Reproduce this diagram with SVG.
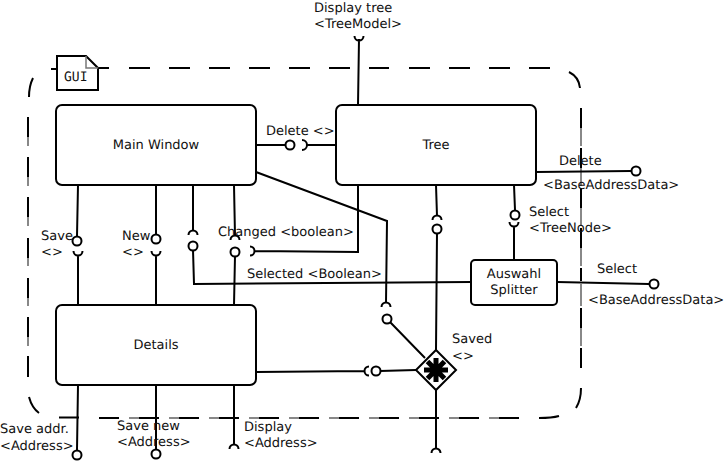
<svg xmlns="http://www.w3.org/2000/svg" width="724" height="462" viewBox="0 0 724 462">
<style>
text{font-family:"DejaVu Sans",sans-serif;font-size:13px;fill:#111;text-rendering:geometricPrecision}
.m{text-anchor:middle}
.b{fill:#fff;stroke:#000;stroke-width:2}
.c{fill:none;stroke:#000;stroke-width:2}
.g{fill:none;stroke:#888;stroke-width:2}
.o{fill:#fff;stroke:#000;stroke-width:2}
</style>
<rect width="724" height="462" fill="#fff"/>
<g id="boundary">
<path class="c" d="M51 69H56M99 68H109M129 68H150M169 68H190M209 68H230M249 68H270M289 68H310M329 68H350M369 68H389M409 68H430M449 68H470M489 68H510M529 68H550"/>
<path class="c" d="M569 72Q579 77 580 88M581 108V128M581 148V168M581 188V208M581 228V248M581 268V281M581 308V328M581 348V368M581 388Q581 400 576 408"/>
<path class="g" d="M581 128V146M581 168V186M581 208V226M581 248V266M581 284V306M581 328V346"/>
<path class="c" d="M33 78Q29 86 29 97M28 117V137M28 157V177M28 197V217M28 238V258M28 278V298M28 317V337M28 356V377M29 397Q32 408 39 413"/>
<path class="g" d="M28 137V146M28 177V186M28 217V226M28 258V266M28 298V306M28 337V346"/>
<path class="c" d="M59 417.500H79M99 418H119M139 418H159M179 418H199M219 418H239M259 418H279M299 418H319M339 418H359M379 418H399M419 418H439M459 418H479M499 418H519M539 418Q552 418 559 416"/>
<path class="g" d="M129 418H139M169 418H179M209 418H219M249 418H259M289 418H299M329 418H339M369 418H379M409 418H419M449 418H459M489 418H499"/>
</g>
<g id="connectors">
<path class="c" d="M358 105L359 39M354.500 36A4.500 4.500 0 0 0 363.500 36"/>
<path class="c" d="M256 145H285M302 140A5 5 0 0 1 302 150M306 145H336"/>
<path class="c" d="M256 172L387 221L386 303M381.500 307A4.500 4.500 0 0 1 390.500 307M390 322L425 358"/>
<path class="c" d="M436 185L437 216M432.500 220A4.500 4.500 0 0 1 441.500 220M437 233L436 350M436 390V449M431.500 453A4.500 4.500 0 0 1 440.500 453"/>
<path class="c" d="M256 372L365 371M369 366.500A4.500 4.500 0 0 0 369 375.500M380 371L416 370"/>
<path class="c" d="M514 185L515 210M509.500 222A4.500 4.500 0 0 0 518.500 222M514 226V260"/>
<path class="c" d="M471 282L194 284L193 250M193 185V231M188.500 235A4.500 4.500 0 0 1 197.500 235"/>
<path class="c" d="M234 185L235 236M230.500 240A4.500 4.500 0 0 1 239.500 240M235 256L234 305"/>
<path class="c" d="M250 246.500A4.500 4.500 0 0 1 250 255.500M254 251L358 252V185"/>
<path class="c" d="M78 185L77 236M73.500 251A4.500 4.500 0 0 0 82.500 251M78 255V305"/>
<path class="c" d="M156 185V234M151.500 251A4.500 4.500 0 0 0 160.500 251M156 255V305"/>
<path class="c" d="M78 385L77 450M156 385V449M234 385V445M229.500 449A4.500 4.500 0 0 1 238.500 449"/>
<path class="c" d="M536 172L631 171M557 282L649 284"/>
<g>
<circle class="o" cx="290" cy="145" r="4.500"/><circle class="o" cx="387" cy="319" r="4.500"/>
<circle class="o" cx="437" cy="229" r="4.500"/><circle class="o" cx="376" cy="371" r="4.500"/>
<circle class="o" cx="515" cy="215" r="4.500"/><circle class="o" cx="193" cy="246" r="4.500"/>
<circle class="o" cx="235" cy="252" r="4.500"/><circle class="o" cx="77" cy="241" r="4.500"/>
<circle class="o" cx="156" cy="239" r="4.500"/><circle class="o" cx="77" cy="455" r="4.500"/>
<circle class="o" cx="156" cy="454" r="4.500"/><circle class="o" cx="636" cy="171" r="4.500"/>
<circle class="o" cx="654" cy="284" r="4.500"/>
</g>
</g>
<g id="gui-note">
<path class="b" d="M57 56H86L98 68V90H57Z"/>
<path fill="none" stroke="#777" stroke-width="1.500" d="M86 56V68H98"/>
<text x="64" y="81" style="font-family:'DejaVu Sans Mono',monospace">GUI</text>
</g>
<g id="main-window"><rect class="b" x="56" y="105" width="200" height="80" rx="6"/><text class="m" x="156" y="149">Main Window</text></g>
<g id="tree"><rect class="b" x="336" y="105" width="200" height="80" rx="6"/><text class="m" x="436" y="149">Tree</text></g>
<g id="details"><rect class="b" x="56" y="305" width="200" height="80" rx="6"/><text class="m" x="156" y="349">Details</text></g>
<g id="splitter"><rect class="b" x="471" y="260" width="86" height="45" rx="4"/><text class="m" x="514" y="278">Auswahl</text><text class="m" x="514" y="294">Splitter</text></g>
<g id="join">
<path class="b" d="M436 350L456 370L436 390L416 370Z"/>
<path stroke="#000" stroke-width="5" fill="none" d="M436 358V382M424 370H448M427.500 361.500L444.500 378.500M444.500 361.500L427.500 378.500"/>
</g>
<g id="labels">
<text x="314" y="12">Display tree</text><text x="314" y="28">&lt;TreeModel&gt;</text>
<text x="266" y="135">Delete &lt;&gt;</text>
<text x="559" y="165">Delete</text><text x="543" y="189">&lt;BaseAddressData&gt;</text>
<text x="529" y="216">Select</text><text x="529" y="232">&lt;TreeNode&gt;</text>
<text x="41" y="240">Save</text><text x="41" y="256">&lt;&gt;</text>
<text x="122" y="240">New</text><text x="122" y="256">&lt;&gt;</text>
<text x="218" y="236">Changed &lt;boolean&gt;</text>
<text x="247" y="278">Selected &lt;Boolean&gt;</text>
<text x="597" y="273">Select</text><text x="588" y="304">&lt;BaseAddressData&gt;</text>
<text x="452" y="343">Saved</text><text x="452" y="360">&lt;&gt;</text>
<text x="0" y="433">Save addr.</text><text x="0" y="450">&lt;Address&gt;</text>
<text x="117" y="430">Save new</text><text x="117" y="446">&lt;Address&gt;</text>
<text x="244" y="431">Display</text><text x="244" y="447">&lt;Address&gt;</text>
</g>
</svg>
